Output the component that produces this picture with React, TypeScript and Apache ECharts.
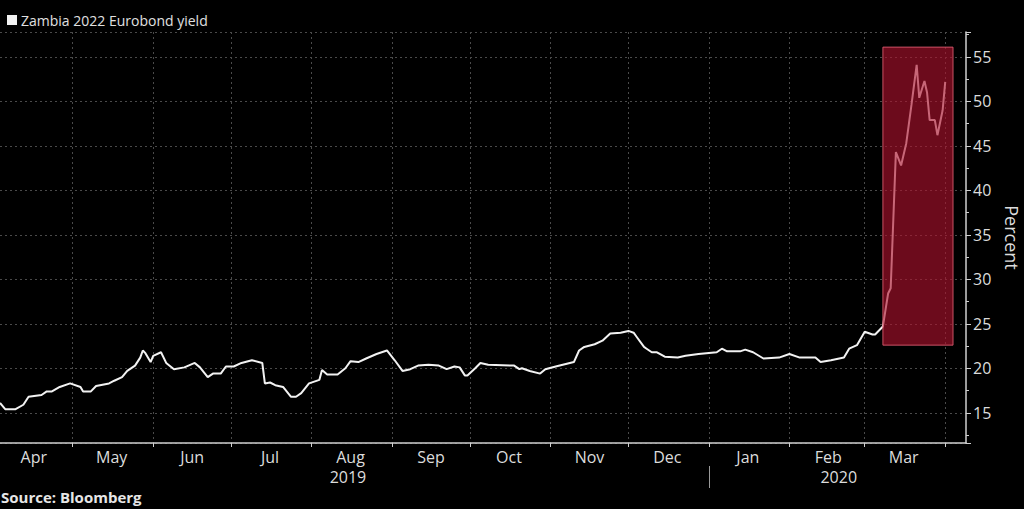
import React, { useEffect, useRef } from "react";
import * as echarts from "echarts";

const seriesName = "Zambia 2022 Eurobond yield";
const axisStart = "2019-04-03";
const axisEnd = "2020-04-09";
const monthNames = ["Jan", "Feb", "Mar", "Apr", "May", "Jun", "Jul", "Aug", "Sep", "Oct", "Nov", "Dec"];
const monthLabelDay = "16";
const yearLabels: Record<string, string> = { "2019-08-15": "2019", "2020-02-20": "2020" };
const yearDivider = "2020-01-01";

const yieldDates = [
  "2019-04-03", "2019-04-05", "2019-04-09", "2019-04-12", "2019-04-14", "2019-04-19", "2019-04-21", "2019-04-23",
  "2019-04-26", "2019-04-30", "2019-05-04", "2019-05-05", "2019-05-08", "2019-05-10", "2019-05-15", "2019-05-17",
  "2019-05-20", "2019-05-22", "2019-05-25", "2019-05-27", "2019-05-28", "2019-05-29", "2019-05-31", "2019-06-01",
  "2019-06-04", "2019-06-06", "2019-06-09", "2019-06-13", "2019-06-17", "2019-06-19", "2019-06-22", "2019-06-24",
  "2019-06-27", "2019-06-29", "2019-07-02", "2019-07-05", "2019-07-09", "2019-07-13", "2019-07-14", "2019-07-16",
  "2019-07-18", "2019-07-21", "2019-07-24", "2019-07-26", "2019-07-28", "2019-07-31", "2019-08-04", "2019-08-05",
  "2019-08-07", "2019-08-11", "2019-08-14", "2019-08-16", "2019-08-19", "2019-08-22", "2019-08-26", "2019-08-30",
  "2019-09-02", "2019-09-05", "2019-09-08", "2019-09-11", "2019-09-15", "2019-09-19", "2019-09-22", "2019-09-25",
  "2019-09-27", "2019-09-29", "2019-09-30", "2019-10-03", "2019-10-05", "2019-10-08", "2019-10-18", "2019-10-20",
  "2019-10-21", "2019-10-24", "2019-10-28", "2019-10-30", "2019-11-03", "2019-11-10", "2019-11-12", "2019-11-14",
  "2019-11-18", "2019-11-21", "2019-11-24", "2019-11-28", "2019-12-01", "2019-12-03", "2019-12-04", "2019-12-07",
  "2019-12-08", "2019-12-10", "2019-12-12", "2019-12-15", "2019-12-20", "2019-12-23", "2019-12-28", "2020-01-04",
  "2020-01-06", "2020-01-08", "2020-01-13", "2020-01-15", "2020-01-18", "2020-01-22", "2020-01-28", "2020-02-01",
  "2020-02-05", "2020-02-11", "2020-02-13", "2020-02-17", "2020-02-22", "2020-02-24", "2020-02-27", "2020-03-01",
  "2020-03-04", "2020-03-05", "2020-03-08", "2020-03-10", "2020-03-11", "2020-03-13", "2020-03-15", "2020-03-17",
  "2020-03-19", "2020-03-21", "2020-03-22", "2020-03-24", "2020-03-25", "2020-03-26", "2020-03-28", "2020-03-29",
  "2020-03-31", "2020-04-01",
];
const yieldValues = [
  16.1, 15.4, 15.4, 15.9, 16.8, 17.0, 17.4, 17.4,
  17.9, 18.3, 17.9, 17.4, 17.4, 18.0, 18.3, 18.6,
  19.0, 19.7, 20.3, 21.2, 22.0, 21.7, 20.7, 21.4,
  21.8, 20.6, 19.9, 20.1, 20.6, 20.1, 19.0, 19.4,
  19.4, 20.2, 20.2, 20.6, 20.9, 20.6, 18.3, 18.4,
  18.1, 17.9, 16.8, 16.8, 17.2, 18.3, 18.7, 19.8,
  19.3, 19.3, 20.0, 20.8, 20.7, 21.1, 21.6, 22.0,
  20.9, 19.7, 19.9, 20.3, 20.4, 20.3, 19.9, 20.2,
  20.1, 19.2, 19.2, 20.0, 20.6, 20.4, 20.3, 19.9,
  20.0, 19.7, 19.4, 19.9, 20.2, 20.7, 22.0, 22.4,
  22.7, 23.1, 23.9, 24.0, 24.2, 24.0, 23.6, 22.4,
  22.2, 21.8, 21.8, 21.3, 21.2, 21.4, 21.6, 21.8,
  22.2, 21.9, 21.9, 22.1, 21.8, 21.1, 21.2, 21.6,
  21.2, 21.2, 20.7, 20.9, 21.2, 22.2, 22.6, 24.1,
  23.8, 23.8, 24.7, 28.4, 29.0, 44.3, 42.8, 45.3,
  49.6, 54.1, 50.4, 52.3, 51.0, 47.9, 47.9, 46.2,
  49.0, 52.2,
];

const yMin = 11.6;
const yMax = 57.8;
const highlightX = ["2020-03-08", "2020-04-04"];
const highlightY = [22.6, 56.1];

const FONT = '"Open Sans", "Noto Sans", sans-serif';

function buildCategories(start: string, end: string): string[] {
  const out: string[] = [];
  const d = new Date(start + "T00:00:00Z");
  const e = new Date(end + "T00:00:00Z");
  while (d.getTime() <= e.getTime()) {
    out.push(d.toISOString().slice(0, 10));
    d.setUTCDate(d.getUTCDate() + 1);
  }
  return out;
}

export default function App() {
  const ref = useRef<HTMLDivElement>(null);
  useEffect(() => {
    if (!ref.current) return;
    const chart = echarts.init(ref.current, null, { renderer: "svg" });
    const categories = buildCategories(axisStart, axisEnd);
    const gridLine = { color: "#4a4a4a", width: 1, type: [2, 3] as any };
    chart.setOption({
      animation: false,
      backgroundColor: "#000000",
      textStyle: { fontFamily: FONT },
      legend: {
        data: [seriesName],
        left: 2,
        top: 8,
        icon: "rect",
        itemWidth: 10,
        itemHeight: 10,
        itemGap: 10,
        textStyle: { color: "#e0e0e0", fontSize: 14, fontFamily: FONT, padding: [0, 0, 0, -1] },
      },
      grid: { left: 0, right: 58, top: 32, bottom: 66, containLabel: false, outerBoundsMode: "none" },
      xAxis: [
        {
          type: "category",
          data: categories,
          boundaryGap: false,
          axisLine: { show: true, lineStyle: { color: "#cfcfcf", width: 1.5 } },
          axisTick: {
            show: true,
            length: 4,
            interval: (_i: number, v: string) => v.endsWith("-01"),
            lineStyle: { color: "#cfcfcf" },
          },
          axisLabel: {
            interval: (_i: number, v: string) => v.slice(8, 10) === monthLabelDay,
            formatter: (v: string) => monthNames[parseInt(v.slice(5, 7), 10) - 1],
            color: "#dcdcdc",
            fontSize: 16,
            fontFamily: FONT,
            margin: 6,
          },
          splitLine: {
            show: true,
            interval: (_i: number, v: string) => v.endsWith("-01"),
            lineStyle: gridLine,
          },
        },
        {
          type: "category",
          data: categories,
          boundaryGap: false,
          position: "bottom",
          offset: 23,
          axisLine: { show: false },
          axisTick: {
            show: true,
            length: 22,
            interval: (_i: number, v: string) => v === yearDivider,
            lineStyle: { color: "#9a9a9a" },
          },
          axisLabel: {
            interval: (_i: number, v: string) => v in yearLabels,
            formatter: (v: string) => yearLabels[v] || "",
            color: "#dcdcdc",
            fontSize: 16,
            fontFamily: FONT,
            margin: 3,
          },
          splitLine: { show: false },
        },
      ],
      yAxis: {
        type: "value",
        position: "right",
        min: yMin,
        max: yMax,
        splitNumber: 9,
        axisLine: { show: true, lineStyle: { color: "#cfcfcf", width: 1.5 } },
        axisTick: { show: true, length: 5, lineStyle: { color: "#cfcfcf" } },
        minorTick: { show: true, splitNumber: 2, length: 3, lineStyle: { color: "#cfcfcf" } },
        axisLabel: {
          color: "#dcdcdc",
          fontSize: 16,
          fontFamily: FONT,
          margin: 7,
          showMinLabel: false,
          showMaxLabel: false,
          formatter: (v: number) => (Math.abs(v % 5) < 1e-6 ? String(v) : ""),
        },
        splitLine: { show: true, lineStyle: gridLine },
        name: "Percent",
        nameLocation: "middle",
        nameRotate: -90,
        nameGap: 37,
        nameTextStyle: { color: "#dcdcdc", fontSize: 18, fontFamily: FONT },
      },
      series: [
        {
          name: seriesName,
          type: "line",
          data: yieldDates.map((d, i) => [d, yieldValues[i]]),
          showSymbol: false,
          symbol: "none",
          color: "#f2f2f2",
          lineStyle: { color: "#f2f2f2", width: 2 },
          z: 2,
          silent: true,
        },
        {
          name: "highlight",
          type: "line",
          data: [],
          z: 10,
          zlevel: 1,
          silent: true,
          markArea: {
            silent: true,
            z: 10,
            itemStyle: {
              color: "rgba(175, 18, 45, 0.62)",
              borderColor: "rgba(225, 95, 115, 0.85)",
              borderWidth: 1,
            },
            data: [[{ xAxis: highlightX[0], yAxis: highlightY[0] }, { xAxis: highlightX[1], yAxis: highlightY[1] }]],
          },
        },
      ],
      graphic: [
        {
          type: "text",
          left: 1,
          top: 489,
          style: { text: "Source: Bloomberg", fill: "#e6e6e6", font: `bold 15px ${FONT}` },
        },
      ],
    });
    return () => chart.dispose();
  }, []);
  return (
    <div
      ref={ref}
      style={{ position: "fixed", left: 0, top: 0, width: 1024, height: 509, background: "#000" }}
    />
  );
}
